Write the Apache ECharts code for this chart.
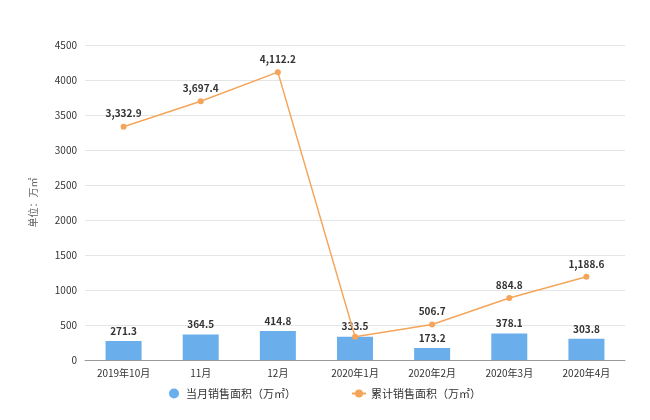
<!DOCTYPE html><html><head><meta charset="utf-8"><script src="https://cdn.jsdelivr.net/npm/echarts@6/dist/echarts.min.js"></script></head><body style="margin:0"><div id="c" style="width:650px;height:420px"></div><script>
const categories=['2019年10月','11月','12月','2020年1月','2020年2月','2020年3月','2020年4月'];
const monthly=[271.3,364.5,414.8,333.5,173.2,378.1,303.8];
const cumulative=[3332.9,3697.4,4112.2,333.5,506.7,884.8,1188.6];
const fmt=p=>p.value.toLocaleString('en-US',{minimumFractionDigits:1,maximumFractionDigits:1});
const ch=echarts.init(document.getElementById('c'));
ch.setOption({
 textStyle:{fontFamily:'Noto Sans CJK SC'},
 grid:{left:85,right:25,top:45,bottom:60},
 legend:{bottom:16,itemGap:55,itemWidth:14,itemHeight:10,textStyle:{fontSize:11,color:'#333'},
  data:[{name:'当月销售面积（万㎡）',icon:'circle'},{name:'累计销售面积（万㎡）'}]},
 xAxis:{type:'category',data:categories,axisTick:{show:false},axisLine:{lineStyle:{color:'#999'}},axisLabel:{fontSize:10,color:'#333'}},
 yAxis:{type:'value',min:0,max:4500,interval:500,name:'单位：万㎡',nameLocation:'middle',nameGap:47,nameTextStyle:{fontSize:10,color:'#666'},
  axisLine:{show:false},axisTick:{show:false},axisLabel:{fontSize:10,color:'#333',formatter:v=>String(v)},splitLine:{lineStyle:{color:'#e5e5e5'}}},
 series:[
  {name:'当月销售面积（万㎡）',type:'bar',data:monthly,barWidth:36,itemStyle:{color:'#6aaeeb'},
   label:{show:true,position:'top',fontSize:10,fontWeight:'bold',color:'#333',formatter:fmt}},
  {name:'累计销售面积（万㎡）',type:'line',data:cumulative.map((v,i)=>i===3?{value:v,label:{show:false}}:v),symbol:'circle',symbolSize:6,itemStyle:{color:'#f4a55a'},lineStyle:{color:'#f4a55a',width:1.5},
   label:{show:true,position:'top',fontSize:10,fontWeight:'bold',color:'#333',formatter:fmt}}
 ]});
</script></body></html>
